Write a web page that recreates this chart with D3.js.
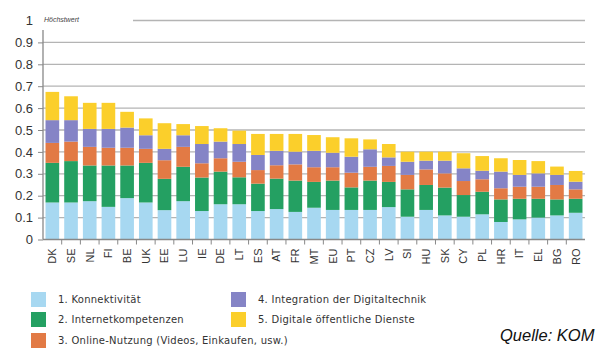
<!DOCTYPE html>
<html>
<head>
<meta charset="utf-8">
<script src="https://cdn.jsdelivr.net/npm/d3@7"></script>
<style>
body { margin: 0; background: #fff; }
svg { display: block; }
.tick text { font-family: Arial, "Liberation Sans", sans-serif; }
</style>
</head>
<body>
<div id="main"></div>
<script>
var countries = ["DK","SE","NL","FI","BE","UK","EE","LU","IE","DE","LT","ES","AT","FR","MT","EU","PT","CZ","LV","SI","HU","SK","CY","PL","HR","IT","EL","BG","RO"];

var konnektivitaet = [0.169,0.169,0.175,0.149,0.189,0.169,0.134,0.175,0.130,0.161,0.161,0.130,0.139,0.126,0.145,0.135,0.135,0.135,0.148,0.104,0.135,0.110,0.104,0.115,0.080,0.092,0.100,0.110,0.122];
var kompetenzen = [0.181,0.189,0.163,0.189,0.149,0.181,0.143,0.157,0.153,0.149,0.123,0.125,0.139,0.143,0.118,0.134,0.103,0.134,0.115,0.125,0.114,0.127,0.099,0.103,0.103,0.094,0.086,0.073,0.064];
var nutzung = [0.091,0.089,0.085,0.081,0.081,0.064,0.085,0.091,0.065,0.061,0.071,0.062,0.061,0.074,0.067,0.061,0.067,0.063,0.073,0.066,0.071,0.065,0.064,0.057,0.051,0.055,0.055,0.066,0.043];
var integration = [0.104,0.098,0.082,0.086,0.092,0.062,0.052,0.053,0.088,0.076,0.081,0.069,0.066,0.058,0.075,0.066,0.073,0.080,0.039,0.060,0.040,0.058,0.058,0.039,0.076,0.054,0.061,0.046,0.035];
var dienste = [0.129,0.109,0.119,0.119,0.072,0.077,0.117,0.051,0.082,0.061,0.061,0.096,0.077,0.081,0.072,0.071,0.084,0.045,0.061,0.046,0.041,0.041,0.069,0.067,0.061,0.068,0.056,0.038,0.049];

var seriesNames = ["1. Konnektivität","2. Internetkompetenzen","3. Online-Nutzung (Videos, Einkaufen, usw.)","4. Integration der Digitaltechnik","5. Digitale öffentliche Dienste"];
var seriesKeys = ["k","i","o","d","p"];
var colors = ["#a7d8f1","#24a062","#e27a45","#8584c6","#fbcf2b"];
var yTicks = [0,0.1,0.2,0.3,0.4,0.5,0.6,0.7,0.8,0.9,1];

var w = 597, h = 350;
var x0 = 43, x1 = 585, yTop = 20.5, yBot = 239.5;

var table = countries.map(function (c, i) {
  return {land: c, k: konnektivitaet[i], i: kompetenzen[i], o: nutzung[i], d: integration[i], p: dienste[i]};
});

var svg = d3.select("#main").append("svg")
  .attr("width", w)
  .attr("height", h);

var x = d3.scaleBand().domain(countries).range([x0, x1]).paddingInner(0.27).paddingOuter(0.135);
var y = d3.scaleLinear().domain([0, 1]).range([yBot, yTop]);

// gridlines
svg.append("g").selectAll("line")
  .data(yTicks.filter(function (d) {return d > 0;}))
  .enter().append("line")
  .attr("x1", function (d) {return d === 1 ? 133 : x0;})
  .attr("x2", x1)
  .attr("y1", function (d) {return y(d);})
  .attr("y2", function (d) {return y(d);})
  .attr("stroke", "#b4b4b4")
  .attr("stroke-width", 1.3);

var stack = d3.stack().keys(seriesKeys);
var layers = stack(table);

svg.append("g").selectAll("g")
  .data(layers)
  .enter().append("g")
  .attr("fill", function (d, i) {return colors[i];})
  .selectAll("rect")
  .data(function (d) {return d;})
  .enter().append("rect")
  .attr("x", function (d) {return x(d.data.land);})
  .attr("width", x.bandwidth())
  .attr("y", function (d) {return y(d[1]);})
  .attr("height", function (d) {return y(d[0]) - y(d[1]);});

// y axis
var yAxis = svg.append("g")
  .attr("transform", "translate(" + x0 + ",0)")
  .call(d3.axisLeft(y).tickValues(yTicks.filter(function (d) {return d < 1;})).tickSize(5).tickPadding(5).tickFormat(d3.format("")));
yAxis.select(".domain").remove();
yAxis.selectAll(".tick line").attr("stroke", "#888");
yAxis.selectAll(".tick text").attr("font-size", 13).attr("fill", "#333");
svg.append("line")
  .attr("x1", x0).attr("x2", x0)
  .attr("y1", 30).attr("y2", yBot)
  .attr("stroke", "#888").attr("stroke-width", 1.3);
svg.append("text")
  .attr("x", 33).attr("y", y(1))
  .attr("dy", "0.35em")
  .attr("text-anchor", "end")
  .attr("font-family", "Arial, 'Liberation Sans', sans-serif")
  .attr("font-size", 13).attr("fill", "#333")
  .text("1");
svg.append("text")
  .attr("x", 44).attr("y", 21.5)
  .attr("font-family", "Arial, 'Liberation Sans', sans-serif")
  .attr("font-style", "italic")
  .attr("font-size", 7).attr("fill", "#444")
  .text("Höchstwert");

// x axis
var xAxis = svg.append("g")
  .attr("transform", "translate(0," + yBot + ")")
  .call(d3.axisBottom(x).tickSize(0).tickPadding(0));
xAxis.select(".domain").attr("stroke", "#888").attr("stroke-width", 1.3)
  .attr("d", "M" + x0 + ",0H" + x1);
xAxis.selectAll(".tick text")
  .attr("font-size", 11).attr("fill", "#333")
  .attr("transform", "rotate(-90)")
  .attr("text-anchor", "end")
  .attr("x", -9).attr("y", 0).attr("dy", "0.35em");
svg.append("g").selectAll("line")
  .data(countries.slice(1))
  .enter().append("line")
  .attr("x1", function (d) {return x(d) - x.step() * x.paddingInner() / 2;})
  .attr("x2", function (d) {return x(d) - x.step() * x.paddingInner() / 2;})
  .attr("y1", yBot).attr("y2", yBot + 5)
  .attr("stroke", "#888");

// legend
var legendPos = [[31, 292], [31, 312], [31, 333], [231, 292], [231, 312]];
var legend = svg.append("g").selectAll("g")
  .data(seriesNames)
  .enter().append("g")
  .attr("transform", function (d, i) {return "translate(" + legendPos[i][0] + "," + legendPos[i][1] + ")";});
legend.append("rect")
  .attr("width", 15).attr("height", 15)
  .attr("fill", function (d, i) {return colors[i];});
legend.append("text")
  .attr("x", 27).attr("y", 7.5)
  .attr("dy", "0.35em")
  .attr("font-family", "'DejaVu Sans', sans-serif")
  .attr("font-size", 10)
  .attr("letter-spacing", 0.25)
  .attr("fill", "#333")
  .text(function (d) {return d;});

svg.append("text")
  .attr("x", 500).attr("y", 341)
  .attr("font-family", "Arial, 'Liberation Sans', sans-serif")
  .attr("font-style", "italic")
  .attr("font-size", 16.5).attr("fill", "#111")
  .text("Quelle: KOM");
</script>
</body>
</html>
